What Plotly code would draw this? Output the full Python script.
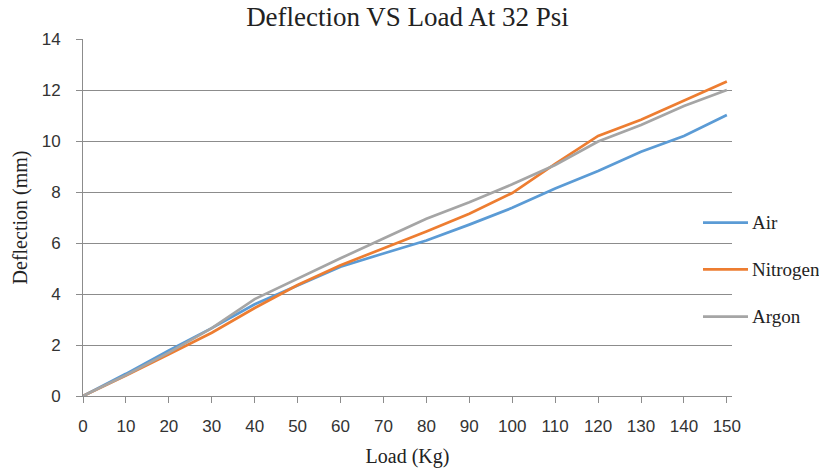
import plotly.graph_objects as go

# Load steps (kg) and measured deflection (mm) for each fill gas at 32 psi
load_kg = [0, 10, 20, 30, 40, 50, 60, 70, 80, 90, 100, 110, 120, 130, 140, 150]
air = [0, 0.87, 1.79, 2.66, 3.6, 4.35, 5.07, 5.59, 6.1, 6.72, 7.38, 8.14, 8.82, 9.58, 10.2, 11.02]
nitrogen = [0, 0.8, 1.64, 2.48, 3.45, 4.35, 5.13, 5.79, 6.45, 7.15, 7.96, 9.1, 10.2, 10.83, 11.57, 12.33]
argon = [0, 0.82, 1.7, 2.66, 3.8, 4.61, 5.4, 6.18, 6.95, 7.6, 8.3, 9.06, 9.98, 10.63, 11.37, 12.0]

y_ticks = [0, 2, 4, 6, 8, 10, 12, 14]

series = [
    ("Air", air, "#5B9BD5"),
    ("Nitrogen", nitrogen, "#ED7D31"),
    ("Argon", argon, "#A5A5A5"),
]

serif = "Liberation Serif, Times New Roman, serif"
sans = "Liberation Sans, Arial, sans-serif"
grid = "#8C8C8C"
text_col = "#222222"

W, H = 819, 472
L, R, T, B = 83, 87, 39, 76
plot_w, plot_h = W - L - R, H - T - B


def px_to_paper_x(px):
    return (px - L) / plot_w


def px_to_paper_y(py):
    return (H - B - py) / plot_h


fig = go.Figure()
for name, vals, color in series:
    fig.add_trace(go.Scatter(
        x=load_kg, y=vals, name=name, mode="lines",
        line=dict(color=color, width=2.7),
        showlegend=False,
    ))

# Legend drawn as short line samples with labels on the right side
legend_rows = [222.7, 269.3, 316.7]
for (name, _, color), row in zip(series, legend_rows):
    yp = px_to_paper_y(row)
    fig.add_shape(type="line", xref="paper", yref="paper",
                  x0=px_to_paper_x(703), x1=px_to_paper_x(748), y0=yp, y1=yp,
                  line=dict(color=color, width=2.7))
    fig.add_annotation(text=name, xref="paper", yref="paper",
                       x=px_to_paper_x(750), y=yp, xanchor="left", yanchor="middle",
                       showarrow=False, font=dict(family=serif, size=19, color=text_col))

fig.update_layout(
    width=W, height=H,
    margin=dict(l=L, r=R, t=T, b=B, autoexpand=False),
    paper_bgcolor="white", plot_bgcolor="white",
    title=dict(text="Deflection VS Load At 32 Psi", x=0.5, xanchor="center",
               xref="paper", y=1 - 17 / H, yanchor="middle",
               font=dict(family=serif, size=27, color=text_col)),
    showlegend=False,
)

fig.update_xaxes(
    range=[0, 151.2], tickvals=load_kg, ticktext=[str(v) for v in load_kg],
    automargin=False,
    showgrid=False, zeroline=False,
    showline=True, linecolor=grid, linewidth=1,
    ticks="outside", ticklen=6, tickcolor=grid,
    ticklabelstandoff=9,
    tickfont=dict(family=sans, size=17, color="#333333"),
    title=dict(text="Load (Kg)", font=dict(family=serif, size=20, color=text_col), standoff=13),
)
fig.update_yaxes(
    range=[0, 14], tickvals=y_ticks,
    automargin=False,
    showgrid=True, gridcolor=grid, gridwidth=1,
    zeroline=False,
    showline=True, linecolor=grid, linewidth=1,
    ticks="outside", ticklen=6, tickcolor=grid,
    ticklabelstandoff=12,
    tickfont=dict(family=sans, size=17, color="#333333"),
    title=dict(text="Deflection (mm)", font=dict(family=serif, size=20, color=text_col), standoff=8),
)

fig.write_html("out.html")
